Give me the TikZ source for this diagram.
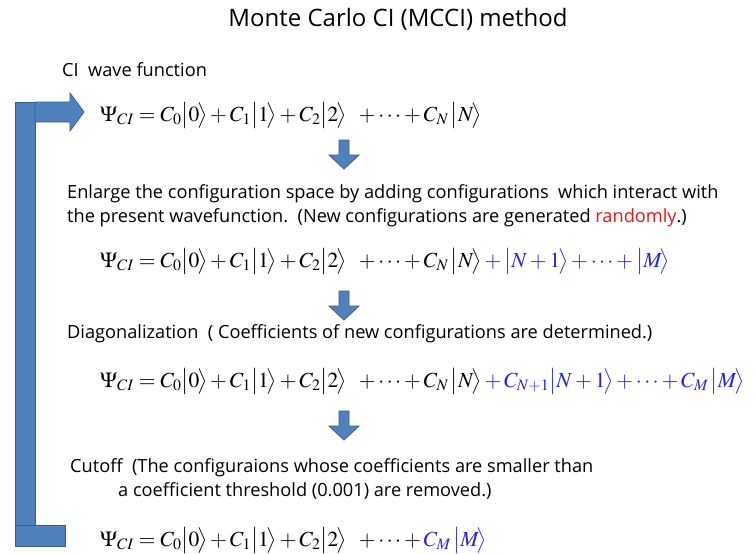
\documentclass[tikz,border=0pt]{standalone}
\usepackage{mathptmx}
\usepackage[no-math]{fontspec}
\setmainfont{Open Sans}
\definecolor{arrfill}{RGB}{79,129,189}
\definecolor{arrline}{RGB}{56,93,138}
\definecolor{eqblue}{RGB}{35,35,225}
\definecolor{rnd}{RGB}{235,20,20}
\newcommand{\kt}[1]{\bigl|#1\!\bigr\rangle}
\tikzset{
  txt/.style={anchor=base west, inner sep=0pt, font=\fontsize{18.2}{20}\selectfont},
  eqn/.style={anchor=base west, inner sep=0pt, font=\fontsize{21.5}{25}\selectfont},
  blk/.style={fill=arrfill, draw=arrline, line width=0.8pt, line join=miter},
  pics/downarr/.style={code={
    \draw[blk] (-5,0) -- (5,0) -- (5,15) -- (15,15) -- (0,29) -- (-15,15) -- (-5,15) -- cycle;
  }}
}
\begin{document}
\begin{tikzpicture}[x=1pt,y=-1pt]
\useasboundingbox (0,0) rectangle (756,554);
\node[anchor=base, inner sep=0pt, font=\fontsize{24}{28}\selectfont] (title) at (398,27) {Monte Carlo CI (MCCI) method};
\node[txt] (t1) at (62,76) {CI\ \ wave function};
\node[eqn] (e1) at (100,121) {$\Psi_{CI} = C_0\kt{0} + C_1\kt{1} + C_2\kt{2} \;\; + \cdots + C_N\,\kt{N}$};
\pic at (344,140) {downarr};
\node[txt] (t2) at (67,198) {Enlarge the configuration space by adding configurations\ \ which interact with};
\node[txt] (t3) at (67,222) {the present wavefunction.\ \ (New configurations are generated \textcolor{rnd}{randomly}.)};
\node[eqn] (e2) at (100,267) {$\Psi_{CI} = C_0\kt{0} + C_1\kt{1} + C_2\kt{2} \;\; + \cdots + C_N\,\kt{N}\color{eqblue}{} + \kt{N+1} + \cdots + \kt{M}$};
\pic at (344,291) {downarr};
\node[txt] (t4) at (67,338) {Diagonalization\ \ ( Coefficients of new configurations are determined.)};
\node[eqn] (e3) at (100,387) {$\Psi_{CI} = C_0\kt{0} + C_1\kt{1} + C_2\kt{2} \;\; + \cdots + C_N\,\kt{N}\color{eqblue}{} + C_{N+1}\kt{N+1} + \cdots + C_M\,\kt{M}$};
\pic at (344,411) {downarr};
\node[txt] (t5) at (70,472) {Cutoff\ \ (The configuraions whose coefficients are smaller than};
\node[txt] (t6) at (118,496) {a coefficient threshold (0.001) are removed.)};
\node[eqn] (e4) at (100,546) {$\Psi_{CI} = C_0\kt{0} + C_1\kt{1} + C_2\kt{2} \;\; + \cdots + \color{eqblue} C_M\,\kt{M}$};
% loop
\draw[blk] (15,102) rectangle (35,525);
\draw[blk] (15,525) rectangle (65,546);
\draw[blk] (35,102) -- (70,102) -- (70,93) -- (84,112) -- (70,131) -- (70,122) -- (35,122) -- cycle;
\end{tikzpicture}
\end{document}
